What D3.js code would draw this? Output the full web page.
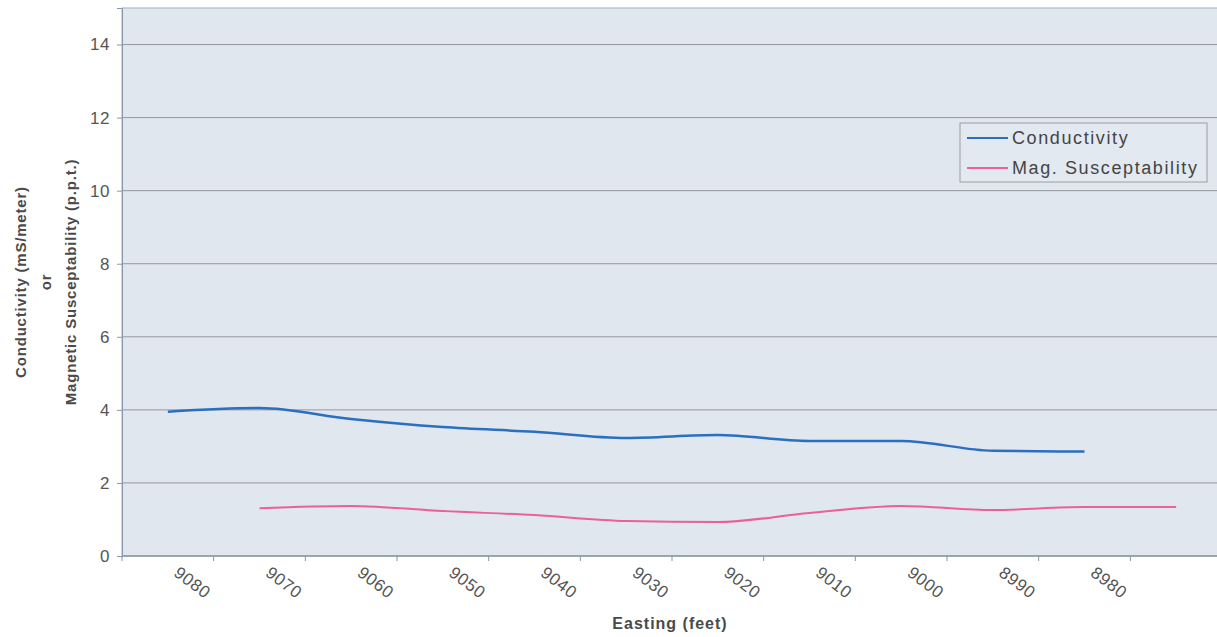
<!DOCTYPE html>
<html>
<head>
<meta charset="utf-8">
<style>
  body { margin: 0; background: #fff; }
  text { font-family: "Liberation Sans", Arial, sans-serif; }
</style>
</head>
<body>
<svg id="chart" width="1217" height="637"></svg>
<script src="https://cdn.jsdelivr.net/npm/d3@7"></script>
<script>
// data
const eastings = ["9080", "9070", "9060", "9050", "9040", "9030", "9020", "9010", "9000", "8990", "8980", ""];
const conductivity = [3.95, 4.05, 3.75, 3.53, 3.4, 3.23, 3.31, 3.15, 3.15, 2.88, 2.86, null];
const magSus = [null, 1.31, 1.37, 1.23, 1.12, 0.96, 0.93, 1.18, 1.37, 1.26, 1.34, 1.34];
const yTicks = [0, 2, 4, 6, 8, 10, 12, 14];

const svg = d3.select("#chart");
const plotL = 122, plotT = 8, plotR = 1222, plotB = 556;

let x = d3.scaleBand().domain(eastings.map((d, i) => i)).range([plotL, plotR]);
let y = d3.scaleLinear().domain([0, 15]).range([plotB, plotT]);

// plot area
svg.append("rect")
  .attr("x", plotL).attr("y", plotT)
  .attr("width", plotR - plotL).attr("height", plotB - plotT)
  .attr("fill", "#e0e7ef")
  .attr("stroke", "#9fb0c8").attr("stroke-width", 1);

// gridlines
svg.append("g").selectAll("line")
  .data(yTicks.filter(d => d > 0))
  .join("line")
  .attr("x1", plotL).attr("x2", plotR)
  .attr("y1", d => y(d)).attr("y2", d => y(d))
  .attr("stroke", "#96989e").attr("stroke-width", 1);

// y axis
let yAxis = d3.axisLeft(y).tickValues(yTicks).tickSize(5).tickPadding(7);
svg.append("g")
  .attr("transform", `translate(${plotL},0)`)
  .call(yAxis)
  .call(g => g.select(".domain").attr("stroke", "#8a96aa"))
  .call(g => g.selectAll(".tick line").attr("stroke", "#8a96aa"))
  .call(g => g.selectAll(".tick text").attr("font-size", 17).attr("fill", "#555")
    .style("letter-spacing", "0.5px").style("font-family", "Liberation Sans, Arial, sans-serif"));

// x axis: ticks between categories
svg.append("line")
  .attr("x1", plotL).attr("x2", plotR)
  .attr("y1", plotB).attr("y2", plotB)
  .attr("stroke", "#8a96aa").attr("stroke-width", 1.5);
svg.append("g").selectAll("line")
  .data(eastings.map((d, i) => i))
  .join("line")
  .attr("x1", i => x(i)).attr("x2", i => x(i))
  .attr("y1", plotB).attr("y2", plotB + 5)
  .attr("stroke", "#8a96aa");

svg.append("g").selectAll("text")
  .data(eastings)
  .join("text")
  .attr("transform", (d, i) => `translate(${x(i) + x.bandwidth() / 2 + 5},${plotB + 19}) rotate(37)`)
  .attr("font-size", 17)
  .attr("fill", "#555")
  .style("letter-spacing", "0.6px")
  .text(d => d);

// lines
let line = d3.line()
  .defined(d => d != null)
  .x((d, i) => x(i) + x.bandwidth() / 2)
  .y(d => y(d))
  .curve(d3.curveMonotoneX);

svg.append("path")
  .datum(conductivity)
  .attr("d", line)
  .attr("fill", "none")
  .attr("stroke", "#2a6fc0")
  .attr("stroke-width", 2.5);

svg.append("path")
  .datum(magSus)
  .attr("d", line)
  .attr("fill", "none")
  .attr("stroke", "#ea5f9c")
  .attr("stroke-width", 2);

// legend
let legend = svg.append("g").attr("transform", "translate(960,123)");
legend.append("rect")
  .attr("width", 247).attr("height", 59)
  .attr("fill", "#e3e9f0")
  .attr("stroke", "#9a9ea4");
let items = [["Conductivity", "#2a6fc0"], ["Mag. Susceptability", "#ea5f9c"]];
items.forEach((it, i) => {
  legend.append("line")
    .attr("x1", 7).attr("x2", 48)
    .attr("y1", 15 + i * 30).attr("y2", 15 + i * 30)
    .attr("stroke", it[1]).attr("stroke-width", 2);
  legend.append("text")
    .attr("x", 52).attr("y", 21 + i * 30)
    .attr("font-size", 18)
    .attr("fill", "#444")
    .style("letter-spacing", "1.6px")
    .text(it[0]);
});

// axis titles
let yt = svg.append("text")
  .attr("transform", "translate(0,282) rotate(-90)")
  .attr("text-anchor", "middle")
  .attr("font-size", 15)
  .attr("font-weight", "bold")
  .attr("fill", "#4a4a4a")
  .style("letter-spacing", "0.8px");
yt.append("tspan").attr("x", 0).attr("y", 26).text("Conductivity (mS/meter)");
yt.append("tspan").attr("x", 0).attr("y", 51).text("or");
yt.append("tspan").attr("x", 0).attr("y", 76).text("Magnetic Susceptability (p.p.t.)");

svg.append("text")
  .attr("x", 670).attr("y", 629)
  .attr("text-anchor", "middle")
  .attr("font-size", 16)
  .attr("font-weight", "bold")
  .attr("fill", "#4a4a4a")
  .style("letter-spacing", "1px")
  .text("Easting (feet)");
</script>
</body>
</html>
